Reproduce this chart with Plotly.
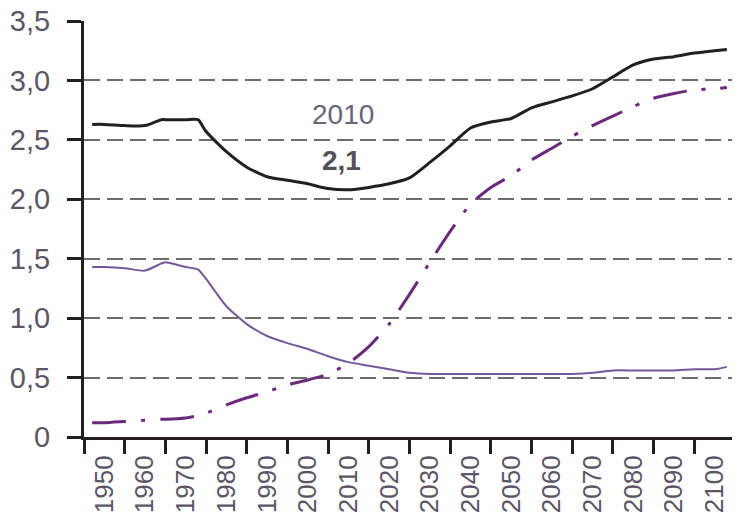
import plotly.graph_objects as go

# ---- data ----
years = [1947, 1950, 1955, 1960, 1964, 1965, 1970, 1973, 1975, 1980, 1985, 1990, 1995,
         2000, 2005, 2010, 2015, 2020, 2025, 2030, 2035, 2040, 2045, 2050, 2055,
         2060, 2065, 2070, 2075, 2080, 2085, 2090, 2095, 2100, 2103]

total = [2.63, 2.63, 2.62, 2.62, 2.67, 2.67, 2.67, 2.67, 2.57, 2.40, 2.27, 2.19, 2.16,
         2.13, 2.09, 2.08, 2.10, 2.13, 2.18, 2.31, 2.45, 2.60, 2.65, 2.68, 2.77,
         2.82, 2.87, 2.93, 3.03, 3.13, 3.18, 3.20, 3.23, 3.25, 3.26]

young = [1.43, 1.43, 1.42, 1.40, 1.46, 1.47, 1.43, 1.41, 1.33, 1.10, 0.95, 0.85, 0.79,
         0.74, 0.68, 0.63, 0.60, 0.57, 0.54, 0.53, 0.53, 0.53, 0.53, 0.53, 0.53,
         0.53, 0.53, 0.54, 0.56, 0.56, 0.56, 0.56, 0.57, 0.57, 0.59]

old = [0.12, 0.12, 0.13, 0.14, 0.15, 0.15, 0.16, 0.18, 0.20, 0.27, 0.33, 0.38, 0.44,
       0.48, 0.53, 0.62, 0.76, 0.95, 1.20, 1.47, 1.73, 1.96, 2.10, 2.20, 2.33,
       2.43, 2.53, 2.62, 2.70, 2.78, 2.85, 2.89, 2.92, 2.93, 2.94]

x_labels = [str(y) for y in range(1950, 2101, 10)]
x_label_pos = list(range(1950, 2101, 10))
y_vals = [0, 0.5, 1.0, 1.5, 2.0, 2.5, 3.0, 3.5]
y_text = ["0", "0,5", "1,0", "1,5", "2,0", "2,5", "3,0", "3,5"]

ann_year, ann_value = 2010, 2.1

AXIS = "#231f20"
TEXT = "#5b5566"
FONT = "Liberation Sans, Arial, sans-serif"

fig = go.Figure()
fig.add_trace(go.Scatter(x=years, y=old, mode="lines",
                         line=dict(color="#6a2a7c", width=3, dash="34px,15px,4px,15px",
                                   shape="spline", smoothing=0.6)))
fig.add_trace(go.Scatter(x=years, y=young, mode="lines",
                         line=dict(color="#73599a", width=2, shape="spline", smoothing=0.6)))
fig.add_trace(go.Scatter(x=years, y=total, mode="lines",
                         line=dict(color=AXIS, width=3, shape="spline", smoothing=0.6)))

fig.add_annotation(x=ann_year - 1.3, y=2.71, text=str(ann_year), showarrow=False,
                   font=dict(family=FONT, size=28, color="#6a6478"))
fig.add_annotation(x=ann_year - 1.8, y=2.33, text="<b>" + str(ann_value).replace(".", ",") + "</b>",
                   showarrow=False, font=dict(family=FONT, size=28, color="#55505c"))

# the page body has an 8px margin, so the figure is sized/offset to compensate
fig.update_layout(
    width=732, height=508,
    margin=dict(l=76, r=5, t=13, b=79),
    paper_bgcolor="white", plot_bgcolor="white",
    showlegend=False,
    xaxis=dict(
        range=[1945, 2105], automargin=False,
        tickmode="array", tickvals=x_label_pos, ticktext=x_labels,
        tickangle=-90, ticks="", ticklabelstandoff=5, ticklabeloverflow="allow",
        tickfont=dict(family=FONT, size=26, color=TEXT),
        minor=dict(tick0=1945, dtick=10, ticks="outside", ticklen=14,
                   tickwidth=3, tickcolor=AXIS, showgrid=False),
        showline=True, linecolor=AXIS, linewidth=3,
        showgrid=False, zeroline=False,
    ),
    yaxis=dict(
        range=[0, 3.5], automargin=False,
        tickmode="array", tickvals=y_vals, ticktext=y_text,
        ticks="outside", ticklen=14, tickwidth=3, tickcolor=AXIS,
        ticklabelstandoff=11, ticklabeloverflow="allow",
        tickfont=dict(family=FONT, size=29, color=TEXT),
        showline=True, linecolor=AXIS, linewidth=3,
        showgrid=True, gridcolor="#6d6d6d", gridwidth=2, griddash="16px,7px",
        zeroline=False,
    ),
)

fig.write_html("out.html")
